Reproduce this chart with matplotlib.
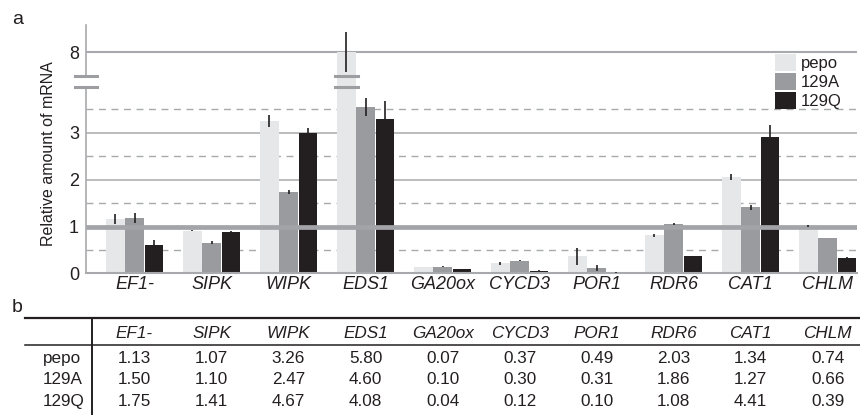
import matplotlib
matplotlib.use('Agg')
import matplotlib.pyplot as plt
from matplotlib.patches import Patch
import numpy as np

plt.rcParams['font.family'] = ['Liberation Sans', 'DejaVu Sans']

# data
genes = ['EF1-', 'SIPK', 'WIPK', 'EDS1', 'GA20ox', 'CYCD3', 'POR1', 'RDR6', 'CAT1', 'CHLM']
lines = ['pepo', '129A', '129Q']
pepo = [1.16, 0.91, 3.25, 8.00, 0.13, 0.21, 0.36, 0.81, 2.06, 1.00]
a129 = [1.18, 0.65, 1.73, 3.55, 0.14, 0.26, 0.11, 1.05, 1.41, 0.75]
q129 = [0.60, 0.88, 3.00, 3.30, 0.08, 0.05, 0.02, 0.36, 2.91, 0.32]
pepo_err = [0.10, 0.02, 0.13, 0.42, 0.01, 0.03, 0.18, 0.03, 0.07, 0.02]
a129_err = [0.10, 0.03, 0.04, 0.19, 0.01, 0.01, 0.07, 0.03, 0.05, 0.01]
q129_err = [0.10, 0.03, 0.10, 0.38, 0.01, 0.01, 0.01, 0.01, 0.26, 0.03]

tab_pepo = [1.13, 1.07, 3.26, 5.80, 0.07, 0.37, 0.49, 2.03, 1.34, 0.74]
tab_a129 = [1.50, 1.10, 2.47, 4.60, 0.10, 0.30, 0.31, 1.86, 1.27, 0.66]
tab_q129 = [1.75, 1.41, 4.67, 4.08, 0.04, 0.12, 0.10, 1.08, 4.41, 0.39]

colors = ['#e6e7e8', '#9a9b9e', '#231f20']
ink = '#231f20'
grid = '#a7a9ac'

# broken y axis: squeeze the range between the two break values
lo_break, hi_break = 3.98, 7.49
src = [-10, 0, lo_break, hi_break, 30]
dst = [-10, 0, lo_break, lo_break + 0.24, lo_break + 0.24 + (30 - hi_break)]


def fwd(v):
    return np.interp(v, src, dst)


def inv(v):
    return np.interp(v, dst, src)


fig = plt.figure(figsize=(8.6, 4.15), dpi=100)
ax = fig.add_axes([0.1, 0.342, 0.8965, 0.598])
ax.set_yscale('function', functions=(fwd, inv))
ax.set_ylim(0, 8.58)

x = np.arange(len(genes))
w = 0.24
step = 0.25
series = [pepo, a129, q129]
errs = [pepo_err, a129_err, q129_err]

# grid lines
for g in [0.5, 1.5, 2.5, 3.5]:
    ax.axhline(g, color=grid, lw=1.0, dashes=(5, 4), zorder=0)
for g in [2, 3]:
    ax.axhline(g, color=grid, lw=1.1, zorder=0)
ax.axhline(8, color=grid, lw=1.5, zorder=0)

for i, (vals, err) in enumerate(zip(series, errs)):
    pos = x + (i - 1) * step
    ax.bar(pos, vals, w, color=colors[i], zorder=2, label=lines[i])
    ax.errorbar(pos, vals, yerr=err, fmt='none', ecolor=ink, elinewidth=1.2,
                capsize=0, zorder=3)

# reference line at 1
ax.axhline(0.98, color='#a3a4a7', lw=3.4, zorder=2.5)

# axes spines
for s in ['top', 'right', 'left']:
    ax.spines[s].set_visible(False)
ax.spines['bottom'].set_color(grid)
ax.spines['bottom'].set_linewidth(1.5)
yt = ax.get_yaxis_transform()
ax.plot([0, 0], [0, lo_break], color=grid, lw=1.2, transform=yt, clip_on=False, zorder=4)
ax.plot([0, 0], [hi_break, 8.58], color=grid, lw=1.2, transform=yt, clip_on=False, zorder=4)
for b in [lo_break, hi_break]:
    ax.plot([-0.014, 0.014], [b, b], color='#9d9ea1', lw=2.2, transform=yt,
            clip_on=False, zorder=4)
    # same marks across the broken EDS1 bar
    bx = x[genes.index('EDS1')] - step
    ax.plot([bx - 0.15, bx + 0.15], [b, b], color='#9d9ea1', lw=2.2, zorder=4)

ax.set_xlim(-0.63, 9.38)
ax.set_xticks(x)
ax.set_xticklabels(genes, fontstyle='italic', fontsize=13, color=ink)
ax.set_yticks([0, 1, 2, 3, 8])
ax.set_yticklabels(['0', '1', '2', '3', '8'], fontsize=13, color=ink)
ax.tick_params(axis='both', length=0)
ax.tick_params(axis='y', pad=5)
ax.tick_params(axis='x', pad=2)

handles = [Patch(facecolor=c, edgecolor='none') for c in colors]
ax.legend(handles, lines, loc='upper left', bbox_to_anchor=(0.894, 0.882),
          frameon=False, borderpad=0, borderaxespad=0, fontsize=12,
          handlelength=1.25, handleheight=1.15, labelspacing=0.12,
          handletextpad=0.3, labelcolor=ink)

fig.text(49 / 860, 1 - 154 / 415, 'Relative amount of mRNA', rotation=90,
         ha='center', va='center', fontsize=11.5, color=ink)
fig.text(12 / 860, 1 - 19 / 415, 'a', fontsize=14, va='center', color=ink)
fig.text(12 / 860, 1 - 307 / 415, 'b', fontsize=14, va='center', color=ink)

# table b
tab = fig.add_axes([0.1, 0.0, 0.8965, 97 / 415])
tab.set_xlim(ax.get_xlim())
tab.set_ylim(2.65, -1.86)
tab.axis('off')
tab.axhline(-1.86, xmin=-0.079, xmax=1.005, color=ink, lw=1.6, clip_on=False)
tab.axhline(-0.6, xmin=-0.079, xmax=1.005, color=ink, lw=1.1, clip_on=False)
tab.axvline(-0.55, ymin=0, ymax=1, color=ink, lw=1.4, clip_on=False)

for j, g in enumerate(genes):
    tab.text(x[j], -1.16, g, ha='center', va='center', fontstyle='italic',
             fontsize=12.3, color=ink)
rows = [tab_pepo, tab_a129, tab_q129]
lab_tr = matplotlib.transforms.blended_transform_factory(tab.transAxes, tab.transData)
for r, (name, vals) in enumerate(zip(lines, rows)):
    tab.text(-0.056, r, name, ha='left', va='center', fontsize=12.3, color=ink,
             transform=lab_tr)
    for j, v in enumerate(vals):
        tab.text(x[j], r, f'{v:.2f}', ha='center', va='center', fontsize=12.3,
                 color=ink)

fig.savefig('out.png', dpi=100, facecolor='white')
